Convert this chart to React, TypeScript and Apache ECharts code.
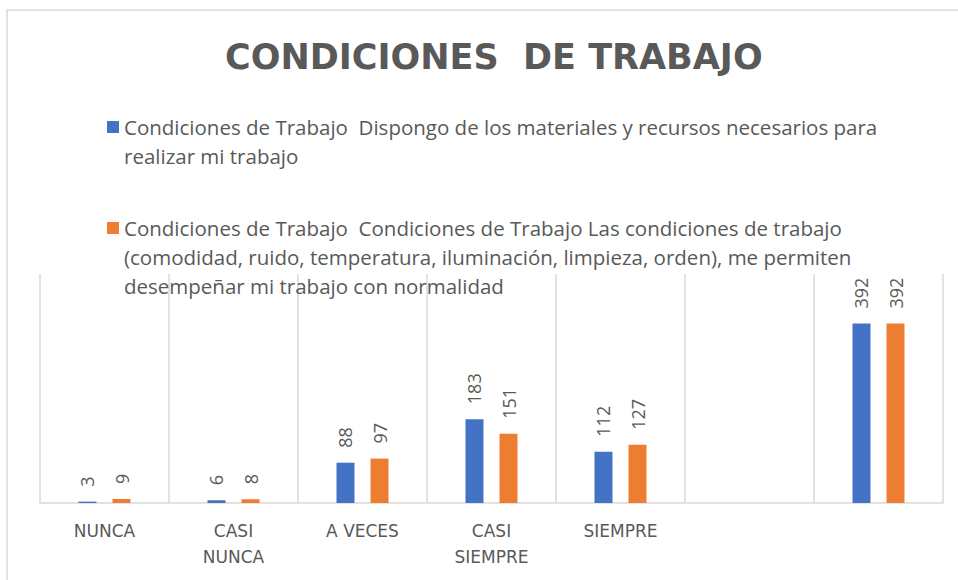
import React, { useEffect, useRef } from "react";
import * as echarts from "echarts";

const categories = ["NUNCA", "CASI NUNCA", "A VECES", "CASI SIEMPRE", "SIEMPRE", "", ""];
const seriesNames = [
  "Condiciones de Trabajo  Dispongo de los materiales y recursos necesarios para realizar mi trabajo",
  "Condiciones de Trabajo  Condiciones de Trabajo Las condiciones de trabajo (comodidad, ruido, temperatura, iluminación, limpieza, orden), me permiten desempeñar mi trabajo con normalidad",
];
const legendLines = [
  ["Condiciones de Trabajo  Dispongo de los materiales y recursos necesarios para", "realizar mi trabajo"],
  [
    "Condiciones de Trabajo  Condiciones de Trabajo Las condiciones de trabajo",
    "(comodidad, ruido, temperatura, iluminación, limpieza, orden), me permiten",
    "desempeñar mi trabajo con normalidad",
  ],
];
const blueValues = [3, 6, 88, 183, 112, null, 392];
const orangeValues = [9, 8, 97, 151, 127, null, 392];

const FONT = "Open Sans";
const GREY = "#595959";
const LH = 29;

export default function App() {
  const ref = useRef<HTMLDivElement>(null);
  useEffect(() => {
    if (!ref.current) return;
    const chart = echarts.init(ref.current, null, { renderer: "svg" });
    const label = {
      show: true,
      position: "top",
      rotate: 90,
      align: "left",
      verticalAlign: "middle",
      distance: 15,
      color: GREY,
      fontFamily: FONT,
      fontSize: 18,
    };
    const legendFor = (i: number, center: number) => {
      const n = legendLines[i].length;
      return {
        data: [seriesNames[i]],
        left: 107,
        top: center - ((2 * n - 1) * LH) / 2,
        padding: 0,
        itemWidth: 12,
        itemHeight: 12,
        icon: "rect",
        selectedMode: false,
        formatter: () => "\n".repeat(n - 1) + legendLines[i].join("\n"),
        textStyle: {
          color: GREY,
          fontFamily: FONT,
          fontSize: 20.5,
          lineHeight: LH,
        },
      };
    };
    chart.setOption({
      animation: false,
      backgroundColor: "#ffffff",
      title: {
        text: "CONDICIONES  DE TRABAJO",
        left: 220,
        top: 34,
        textStyle: {
          color: GREY,
          fontFamily: "DejaVu Sans",
          fontWeight: "bold",
          fontSize: 35,
        },
      },
      legend: [legendFor(0, 127), legendFor(1, 228)],
      grid: { left: 40, right: 15, top: 274, bottom: 77 },
      xAxis: {
        type: "category",
        data: categories,
        axisLine: { show: true, lineStyle: { color: "#d9d9d9", width: 1.5 } },
        axisTick: { show: false },
        splitLine: { show: true, lineStyle: { color: "#d9d9d9", width: 1.5 } },
        axisLabel: {
          color: GREY,
          fontFamily: "DejaVu Sans",
          fontSize: 17,
          lineHeight: 26,
          margin: 15,
          interval: 0,
          formatter: (v: string) => v.replace("CASI ", "CASI\n"),
        },
      },
      yAxis: {
        type: "value",
        min: 0,
        max: 500,
        show: false,
        splitLine: { show: false },
      },
      series: [
        {
          name: seriesNames[0],
          type: "bar",
          data: blueValues,
          barWidth: 18,
          barGap: "89%",
          itemStyle: { color: "#4472c4" },
          label,
        },
        {
          name: seriesNames[1],
          type: "bar",
          data: orangeValues,
          barWidth: 18,
          itemStyle: { color: "#ed7d31" },
          label,
        },
      ],
      graphic: [
        {
          type: "rect",
          shape: { x: 7, y: 10, width: 1000, height: 700 },
          style: { fill: "none", stroke: "#d9d9d9", lineWidth: 1.5 },
          silent: true,
        },
      ],
    });
    return () => chart.dispose();
  }, []);
  return (
    <div
      ref={ref}
      style={{ position: "fixed", left: 0, top: 0, width: 958, height: 580 }}
    />
  );
}
